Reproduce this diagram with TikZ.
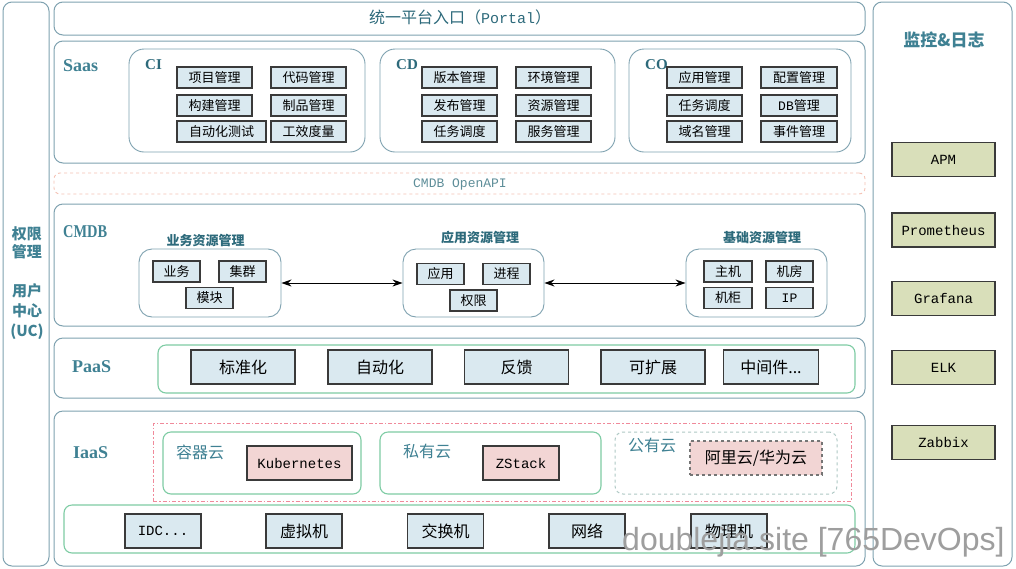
\documentclass[tikz,border=0pt]{standalone}
\usepackage{fontspec}
\setmainfont{Noto Sans CJK SC}
\newfontfamily\mono{Liberation Mono}
\newfontfamily\hdr{Liberation Serif}
\newfontfamily\wmfont{Liberation Sans}
\usetikzlibrary{arrows.meta}
\definecolor{frameC}{HTML}{7FA2B0}
\definecolor{tealC}{HTML}{3F8193}
\definecolor{tealD}{HTML}{2D6A7B}
\definecolor{boxF}{HTML}{DAE9F0}
\definecolor{boxD}{HTML}{3A3A3A}
\definecolor{greenC}{HTML}{7ECCA4}
\definecolor{pinkF}{HTML}{F2D5D4}
\definecolor{pinkD}{HTML}{F0899A}
\definecolor{rightF}{HTML}{D9DFBA}
\definecolor{apiD}{HTML}{F4C2B5}
\definecolor{pubD}{HTML}{AEC8C4}
\definecolor{apiT}{HTML}{5E8E99}
\begin{document}
\begin{tikzpicture}[x=1pt,y=-1pt,
  frame/.style={draw=frameC, line width=1pt, rounded corners=9pt, inner sep=0pt},
  innerbox/.style={draw=frameC, line width=0.9pt, rounded corners=15pt, inner sep=0pt},
  grpbox/.style={draw=frameC, line width=0.9pt, rounded corners=13pt, inner sep=0pt},
  gbox/.style={draw=greenC, line width=1.1pt, rounded corners=8pt, inner sep=0pt},
  sbox/.style={draw=boxD, fill=boxF, line width=1.2pt, inner sep=0pt,
    font=\fontsize{13}{13}\selectfont, minimum height=21pt},
  pbox/.style={draw=boxD, fill=boxF, line width=1.2pt, inner sep=0pt,
    font=\fontsize{16}{16}\selectfont, minimum height=34pt},
  kbox/.style={draw=boxD, fill=pinkF, line width=1.2pt, inner sep=0pt,
    minimum height=34pt},
  rbox/.style={draw=boxD, fill=rightF, line width=1.2pt, inner sep=0pt,
    font=\mono\fontsize{14}{14}\selectfont, minimum width=103pt, minimum height=34pt},
  layer/.style={text=tealC, font=\hdr\bfseries\fontsize{18}{18}\selectfont, anchor=west, inner sep=0pt},
  sublayer/.style={text=tealD, font=\hdr\bfseries\fontsize{15}{15}\selectfont, anchor=west, inner sep=0pt},
  grplbl/.style={text=tealD, font=\bfseries\fontsize{13}{13}\selectfont, inner sep=0pt},
  cloudlbl/.style={text=tealC, font=\fontsize{16}{16}\selectfont, anchor=west, inner sep=0pt},
  biarrow/.style={{Stealth[length=10pt,width=7pt]}-{Stealth[length=10pt,width=7pt]}, line width=1pt, black}
]
\useasboundingbox[fill=white] (0,0) rectangle (1016,568);

% outer frames
\node[frame, minimum width=46pt, minimum height=564pt] (uc) at (26,284) {};
\node[frame, minimum width=811pt, minimum height=33pt] (portal) at (459.5,18.5) {};
\node[frame, minimum width=811pt, minimum height=122pt] (saas) at (459.5,102) {};
\node[draw=apiD, dashed, line width=0.9pt, rounded corners=6pt, minimum width=811pt, minimum height=21pt, inner sep=0pt] (api) at (459.5,183.5) {};
\node[frame, minimum width=811pt, minimum height=122pt] (cmdb) at (459.5,265) {};
\node[frame, minimum width=811pt, minimum height=60pt] (paas) at (459.5,368) {};
\node[frame, minimum width=811pt, minimum height=155pt] (iaas) at (459.5,488.5) {};
\node[frame, minimum width=139pt, minimum height=564pt] (mon) at (942.5,284) {};

% left column text
\node[text=tealC, font=\bfseries\fontsize{15}{18}\selectfont, align=center, inner sep=0pt] (qx) at (27,242.5) {权限\\管理};
\node[text=tealC, font=\bfseries\fontsize{15}{20}\selectfont, align=center, inner sep=0pt] (yh) at (27,312) {用户\\中心\\(UC)};

% portal
\node[text=tealD, font=\fontsize{16}{16}\selectfont, inner sep=0pt] (portalT) at (460,17) {统一平台入口（{\mono\fontsize{15}{15}\selectfont Portal}）};

% Saas
\node[layer] (saasL) at (63,66) {Saas};
\node[innerbox, minimum width=236pt, minimum height=103pt] (ci) at (247,100.5) {};
\node[innerbox, minimum width=235pt, minimum height=103pt] (cd) at (497.5,100.5) {};
\node[innerbox, minimum width=222pt, minimum height=103pt] (co) at (740,100.5) {};
\node[sublayer] (ciL) at (145,65) {CI};
\node[sublayer] (cdL) at (396,65) {CD};
\node[sublayer] (coL) at (645,65) {CO};

\node[sbox, minimum width=75pt] (ci1) at (214.5,77.5) {项目管理};
\node[sbox, minimum width=75pt] (ci2) at (308.5,77.5) {代码管理};
\node[sbox, minimum width=75pt] (ci3) at (214.5,105.5) {构建管理};
\node[sbox, minimum width=75pt] (ci4) at (308.5,105.5) {制品管理};
\node[sbox, minimum width=89pt] (ci5) at (221.5,131.5) {自动化测试};
\node[sbox, minimum width=75pt] (ci6) at (308.5,131.5) {工效度量};

\node[sbox, minimum width=75pt] (cd1) at (459.5,77.5) {版本管理};
\node[sbox, minimum width=75pt] (cd2) at (553.5,77.5) {环境管理};
\node[sbox, minimum width=75pt] (cd3) at (459.5,105.5) {发布管理};
\node[sbox, minimum width=75pt] (cd4) at (553.5,105.5) {资源管理};
\node[sbox, minimum width=75pt] (cd5) at (459.5,131.5) {任务调度};
\node[sbox, minimum width=75pt] (cd6) at (553.5,131.5) {服务管理};

\node[sbox, minimum width=75pt] (co1) at (704.5,77.5) {应用管理};
\node[sbox, minimum width=76pt] (co2) at (799,77.5) {配置管理};
\node[sbox, minimum width=75pt] (co3) at (704.5,105.5) {任务调度};
\node[sbox, minimum width=76pt] (co4) at (799,105.5) {{\mono DB}管理};
\node[sbox, minimum width=75pt] (co5) at (704.5,131.5) {域名管理};
\node[sbox, minimum width=76pt] (co6) at (799,131.5) {事件管理};

% OpenAPI
\node[text=apiT, font=\mono\fontsize{13}{13}\selectfont, inner sep=0pt] (apiT) at (460,184) {CMDB OpenAPI};

% CMDB
\node[layer, xscale=0.8, transform shape] (cmdbL) at (63,232) {CMDB};
\node[grplbl] (g1L) at (205.5,240.5) {业务资源管理};
\node[grplbl] (g2L) at (480,238) {应用资源管理};
\node[grplbl] (g3L) at (762,238) {基础资源管理};
\node[grpbox, minimum width=142pt, minimum height=68pt] (g1) at (210,283) {};
\node[grpbox, minimum width=141pt, minimum height=68pt] (g2) at (473.5,283) {};
\node[grpbox, minimum width=141pt, minimum height=68pt] (g3) at (756.5,283) {};

\node[sbox, minimum width=47pt] (b1) at (176.5,271.5) {业务};
\node[sbox, minimum width=47pt] (b2) at (242.5,271.5) {集群};
\node[sbox, minimum width=47pt] (b3) at (209.5,298) {模块};
\node[sbox, minimum width=47pt] (a1) at (440.5,274) {应用};
\node[sbox, minimum width=47pt] (a2) at (506.5,274) {进程};
\node[sbox, minimum width=47pt] (a3) at (473.5,300.5) {权限};
\node[sbox, minimum width=48pt] (j1) at (728,271.5) {主机};
\node[sbox, minimum width=47pt] (j2) at (789.5,271.5) {机房};
\node[sbox, minimum width=48pt] (j3) at (728,298) {机柜};
\node[sbox, minimum width=47pt] (j4) at (789.5,298) {{\mono IP}};

\draw[biarrow] (g1.east) -- (g2.west);
\draw[biarrow] (g2.east) -- (g3.west);

% PaaS
\node[layer] (paasL) at (72,367) {PaaS};
\node[gbox, minimum width=697pt, minimum height=48pt] (paasIn) at (506.5,369) {};
\node[pbox, minimum width=104pt] (p1) at (243,367) {标准化};
\node[pbox, minimum width=104pt] (p2) at (380,367) {自动化};
\node[pbox, minimum width=104pt] (p3) at (516.5,367) {反馈};
\node[pbox, minimum width=104pt] (p4) at (653,367) {可扩展};
\node[pbox, minimum width=95pt] (p5) at (771,367) {中间件...};

% IaaS
\node[layer] (iaasL) at (73,453) {IaaS};
\node[draw=pinkD, line width=1pt, dash pattern=on 4pt off 2pt on 1.5pt off 2pt, minimum width=698pt, minimum height=78pt, inner sep=0pt] (cloud) at (502,462) {};
\node[gbox, minimum width=198pt, minimum height=62pt] (c1) at (262,463) {};
\node[gbox, minimum width=221pt, minimum height=62pt] (c2) at (490.5,463) {};
\node[draw=pubD, dashed, line width=1pt, rounded corners=8pt, minimum width=222pt, minimum height=62pt, inner sep=0pt] (c3) at (726,463) {};
\node[cloudlbl] (c1L) at (176,452) {容器云};
\node[cloudlbl] (c2L) at (403,451) {私有云};
\node[cloudlbl] (c3L) at (628,445) {公有云};
\node[kbox, minimum width=105pt, font=\mono\fontsize{14}{14}\selectfont] (k8s) at (299.5,463) {Kubernetes};
\node[kbox, minimum width=76pt, font=\mono\fontsize{14}{14}\selectfont] (zs) at (521,463) {ZStack};
\node[kbox, draw=boxD!70, dashed, minimum width=132pt, font=\fontsize{16}{16}\selectfont] (ali) at (756,458) {阿里云/华为云};

\node[gbox, minimum width=791pt, minimum height=48pt] (hw) at (459.5,529) {};
\node[pbox, minimum width=76pt, font=\mono\fontsize{14}{14}\selectfont] (h1) at (163,531) {IDC...};
\node[pbox, minimum width=76pt] (h2) at (304,531) {虚拟机};
\node[pbox, minimum width=76pt] (h3) at (445.5,531) {交换机};
\node[pbox, minimum width=76pt] (h4) at (587,531) {网络};
\node[pbox, minimum width=76pt] (h5) at (729,531) {物理机};

% monitoring
\node[text=tealC, font=\bfseries\fontsize{17}{17}\selectfont, inner sep=0pt] (monL) at (944,40) {监控\&日志};
\node[rbox] (m1) at (943.5,159.5) {APM};
\node[rbox] (m2) at (943.5,230) {Prometheus};
\node[rbox] (m3) at (943.5,298.5) {Grafana};
\node[rbox] (m4) at (943.5,367.5) {ELK};
\node[rbox] (m5) at (943.5,442.5) {Zabbix};

% watermark
\node[text=black!38, font=\wmfont\fontsize{32}{32}\selectfont, anchor=base west, inner sep=0pt] (wm) at (622,550) {doublejia.site [765DevOps]};
\end{tikzpicture}
\end{document}
